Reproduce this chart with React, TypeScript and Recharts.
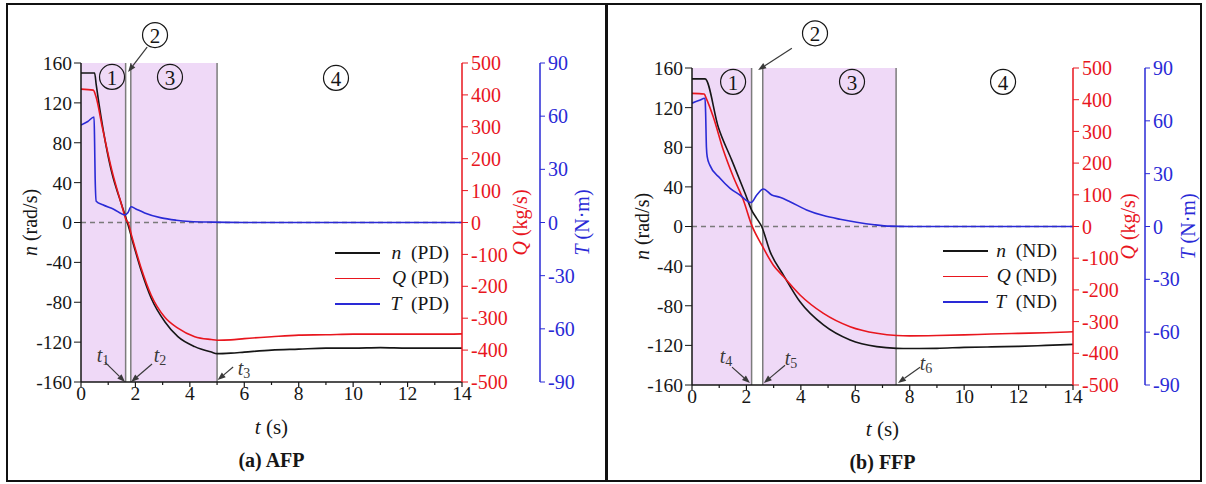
import React from "react";
import {
  ComposedChart,
  Line,
  XAxis,
  YAxis,
  ReferenceArea,
  ReferenceLine,
  ReferenceDot,
  Legend,
} from "recharts";

const FONT = "Liberation Serif, DejaVu Serif, serif";
const INK = "#161616";
const RED = "#E8161E";
const BLUE = "#2A2AD6";
const SHADE = "#EFD9F7";
const EDGE = "#7c7c7c";
const NOTE = "#3a3a3a";

// axis ticks
const tTicks = [0, 1, 2, 3, 4, 5, 6, 7, 8, 9, 10, 11, 12, 13, 14];
const nTicks = [-160, -120, -80, -40, 0, 40, 80, 120, 160];
const qTicks = [-500, -400, -300, -200, -100, 0, 100, 200, 300, 400, 500];
const torqueTicks = [-90, -60, -30, 0, 30, 60, 90];

// (a) AFP, PD
const nA_t = [0, 0.5, 0.56, 0.9, 1.15, 1.42, 1.67, 1.73, 1.97, 2.22, 2.58, 3.08, 3.56, 4.18, 4.79, 5.0, 5.5, 6, 7, 8, 9, 10, 11, 12, 13, 14];
const nA_v = [150, 150, 138, 80, 48, 24, 3, -2.5, -26, -49, -76, -99.5, -114.5, -124.5, -130, -131.5, -131, -130, -128, -127, -126, -126, -125.5, -126, -126, -126];
const qA_t = [0, 0.45, 0.55, 0.78, 1.13, 1.48, 1.67, 1.73, 1.85, 2.2, 2.58, 3.08, 3.56, 4.18, 4.79, 5.0, 5.5, 6, 7, 8, 9, 10, 11, 12, 13, 14];
const qA_v = [418, 415, 395, 300, 165, 59, 6, 0, -38, -140, -228, -297, -331, -358, -367, -369, -368, -364, -358, -353, -352, -350, -350, -350, -350, -349];
const TA_t = [0, 0.25, 0.48, 0.5, 0.52, 0.56, 0.8, 1.2, 1.62, 1.72, 1.84, 2.0, 2.34, 2.95, 3.5, 4.0, 4.8, 6, 8, 10, 12, 14];
const TA_v = [55, 57, 59.5, 45, 25, 12, 10, 7.5, 4.3, 5.5, 8.9, 7.8, 5.4, 2.6, 1.3, 0.6, 0.2, 0, 0, 0, 0, 0];

// (b) FFP, ND
const nB_t = [0, 0.48, 0.97, 1.46, 1.95, 2.19, 2.38, 2.56, 2.87, 3.36, 3.97, 4.83, 5.81, 6.79, 7.52, 8, 9, 10, 11, 12, 13, 14];
const nB_v = [149, 149, 100, 67, 33.5, 16.6, 8, 0, -25.4, -49, -76, -99.4, -114.6, -121.3, -123, -123.2, -123, -122, -121.5, -121, -120, -119];
const qB_t = [0, 0.45, 0.52, 0.78, 1.15, 1.52, 1.89, 2.19, 2.56, 2.99, 3.36, 3.97, 4.83, 5.81, 6.79, 7.52, 8, 9, 10, 11, 12, 13, 14];
const qB_v = [420, 418, 405, 346, 241, 156, 83, 5, -58, -122, -158, -216, -274, -316, -337, -344, -345, -344, -342, -339, -337, -335, -332];
const TB_t = [0, 0.25, 0.48, 0.5, 0.53, 0.56, 0.65, 1.03, 1.4, 1.76, 2.17, 2.38, 2.62, 2.93, 3.23, 3.6, 4.21, 4.83, 5.44, 6.05, 6.7, 7.28, 8, 10, 12, 14];
const TB_v = [70, 71.5, 72.8, 65, 45, 39.5, 35, 27.4, 21.7, 17.9, 13.6, 17.9, 21.3, 17.9, 16.6, 14.1, 9.4, 6.2, 4.1, 2.4, 1.0, 0.2, 0, 0, 0, 0];

// stage boundaries (s)
const stagesA = [1.64, 1.83, 5.0];
const stagesB = [2.19, 2.6, 7.5];

const zip = (ts: number[], vs: number[]) => ts.map((t, i) => ({ t, v: vs[i] }));

const TimeTick = ({ x, y, payload }: any) => {
  const v = payload.value;
  const major = v % 2 === 0;
  const ay = y - 7;
  return (
    <g>
      <line x1={x} x2={x} y1={ay} y2={ay + (major ? 5 : 3)} stroke={INK} strokeWidth={1.2} />
      {major && (
        <text x={x} y={ay + 18} textAnchor="middle" fontSize={19.5} fontFamily={FONT} fill={INK}>
          {v}
        </text>
      )}
    </g>
  );
};

const vTitle = (sym: string, unit: string, color: string, dx: number) => ({ viewBox }: any) => {
  const cx = viewBox.x + dx;
  const cy = viewBox.y + viewBox.height / 2;
  return (
    <text
      x={cx}
      y={cy}
      transform={`rotate(-90 ${cx} ${cy})`}
      textAnchor="middle"
      dominantBaseline="central"
      fill={color}
      fontSize={20}
      fontFamily={FONT}
    >
      <tspan fontStyle="italic">{sym}</tspan>
      {" " + unit}
    </text>
  );
};

const xTitle = (caption: string, dy1: number, dy2: number) => ({ viewBox }: any) => {
  const cx = viewBox.x + viewBox.width / 2;
  return (
    <g fontFamily={FONT} fill={INK}>
      <text x={cx} y={viewBox.y + dy1} textAnchor="middle" dominantBaseline="central" fontSize={21}>
        <tspan fontStyle="italic">t</tspan>
        {" (s)"}
      </text>
      <text x={cx} y={viewBox.y + dy2} textAnchor="middle" dominantBaseline="central" fontSize={20} fontWeight="bold">
        {caption}
      </text>
    </g>
  );
};

const circled = (label: string) => ({ cx, cy }: any) => (
  <g>
    <circle cx={cx} cy={cy} r={12.5} fill="none" stroke={INK} strokeWidth={1.2} />
    <text x={cx} y={cy + 1} textAnchor="middle" dominantBaseline="central" fontSize={21} fontFamily={FONT} fill={INK}>
      {label}
    </text>
  </g>
);

const tLabel = (sub: string) => ({ cx, cy }: any) => (
  <text x={cx} y={cy} textAnchor="middle" dominantBaseline="central" fontFamily={FONT} fill={NOTE} fontSize={20}>
    <tspan fontStyle="italic">t</tspan>
    <tspan fontSize={14} dy={5}>{sub}</tspan>
  </text>
);

const arrowShape = (props: any) => {
  const { x1, y1, x2, y2 } = props;
  const a = Math.atan2(y2 - y1, x2 - x1);
  const L = 8;
  const W = 3;
  const bx = x2 - L * Math.cos(a);
  const by = y2 - L * Math.sin(a);
  const px = -Math.sin(a) * W;
  const py = Math.cos(a) * W;
  return (
    <g>
      <line x1={x1} y1={y1} x2={bx} y2={by} stroke={NOTE} strokeWidth={1.2} />
      <polygon points={`${x2},${y2} ${bx + px},${by + py} ${bx - px},${by - py}`} fill={NOTE} />
    </g>
  );
};

const legendRows = [
  { sym: "n", gap: "  ", color: INK },
  { sym: "Q", gap: " ", color: RED },
  { sym: "T", gap: "  ", color: BLUE },
];

const legendContent = (tag: string) => () => (
  <div style={{ width: 114, fontFamily: FONT, fontSize: 19.5, color: INK }}>
    {legendRows.map((r) => (
      <div key={r.sym} style={{ display: "flex", alignItems: "center", height: 25.5 }}>
        <div style={{ width: 45, height: 1.5, flexShrink: 0, background: r.color }} />
        <div style={{ flex: 1, textAlign: "right", whiteSpace: "pre" }}>
          <i>{r.sym}</i>
          {r.gap}({tag})
        </div>
      </div>
    ))}
  </div>
);

type PanelProps = {
  left: number;
  width: number;
  margin: { top: number; right: number; bottom: number; left: number };
  nWidth: number;
  qWidth: number;
  titles: { n: number; q: number; T: number; x1: number; x2: number };
  n: { t: number; v: number }[];
  q: { t: number; v: number }[];
  T: { t: number; v: number }[];
  stages: number[];
  circles: { t: number; n: number; label: string }[];
  arrows: { x1: number; y1: number; x2: number; y2: number }[];
  tNotes: { t: number; n: number; sub: string }[];
  tag: string;
  caption: string;
  legendPos: { left: number; top: number };
};

function Panel(p: PanelProps) {
  const [s1, s2, s3] = p.stages;
  return (
    <div style={{ position: "absolute", left: p.left, top: 4 }}>
      <ComposedChart width={p.width} height={477} margin={p.margin}>
        <XAxis
          dataKey="t"
          type="number"
          domain={[0, 14]}
          ticks={tTicks}
          interval={0}
          allowDataOverflow
          height={30}
          tickSize={5}
          tickMargin={2}
          tickLine={false}
          tick={<TimeTick />}
          axisLine={{ stroke: INK, strokeWidth: 1.5 }}
          label={{ content: xTitle(p.caption, p.titles.x1, p.titles.x2) }}
        />
        <YAxis
          yAxisId="n"
          orientation="left"
          domain={[-160, 160]}
          ticks={nTicks}
          interval={0}
          allowDataOverflow
          width={p.nWidth}
          tickSize={7}
          tickMargin={2}
          stroke={INK}
          axisLine={{ stroke: INK, strokeWidth: 1.5 }}
          tick={{ fill: INK, fontSize: 19.5, fontFamily: FONT }}
          label={{ content: vTitle("n", "(rad/s)", INK, p.titles.n) }}
        />
        <YAxis
          yAxisId="q"
          orientation="right"
          domain={[-500, 500]}
          ticks={qTicks}
          interval={0}
          allowDataOverflow
          width={p.qWidth}
          tickSize={6}
          tickMargin={3}
          stroke={RED}
          axisLine={{ stroke: RED, strokeWidth: 1.5 }}
          tick={{ fill: RED, fontSize: 20, fontFamily: FONT }}
          label={{ content: vTitle("Q", "(kg/s)", RED, p.titles.q) }}
        />
        <YAxis
          yAxisId="torque"
          orientation="right"
          domain={[-90, 90]}
          ticks={torqueTicks}
          interval={0}
          allowDataOverflow
          width={55}
          tickSize={5}
          tickMargin={3}
          stroke={BLUE}
          axisLine={{ stroke: BLUE, strokeWidth: 1.5 }}
          tick={{ fill: BLUE, fontSize: 20, fontFamily: FONT }}
          label={{ content: vTitle("T", "(N·m)", BLUE, p.titles.T) }}
        />

        <ReferenceArea yAxisId="n" x1={0} x2={s1} y1={-160} y2={160} fill={SHADE} fillOpacity={1} stroke="none" />
        <ReferenceArea yAxisId="n" x1={s2} x2={s3} y1={-160} y2={160} fill={SHADE} fillOpacity={1} stroke="none" />
        {p.stages.map((s) => (
          <ReferenceLine key={s} yAxisId="n" x={s} stroke={EDGE} strokeWidth={1.5} />
        ))}
        <ReferenceLine yAxisId="n" y={0} stroke="#7a7a7a" strokeWidth={1.3} strokeDasharray="5 4" />

        <Line data={p.n} dataKey="v" yAxisId="n" type="monotone" stroke={INK} strokeWidth={1.6} dot={false} isAnimationActive={false} />
        <Line data={p.q} dataKey="v" yAxisId="q" type="monotone" stroke={RED} strokeWidth={1.6} dot={false} isAnimationActive={false} />
        <Line data={p.T} dataKey="v" yAxisId="torque" type="monotone" stroke={BLUE} strokeWidth={1.6} dot={false} isAnimationActive={false} />

        {p.circles.map((c) => (
          <ReferenceDot key={c.label} yAxisId="n" x={c.t} y={c.n} r={12} ifOverflow="visible" shape={circled(c.label)} />
        ))}
        {p.arrows.map((a, i) => (
          <ReferenceLine
            key={"ar" + i}
            yAxisId="n"
            segment={[{ x: a.x1, y: a.y1 }, { x: a.x2, y: a.y2 }]}
            ifOverflow="visible"
            shape={arrowShape}
          />
        ))}
        {p.tNotes.map((n) => (
          <ReferenceDot key={n.sub} yAxisId="n" x={n.t} y={n.n} r={5} ifOverflow="visible" shape={tLabel(n.sub)} />
        ))}

        <Legend
          layout="vertical"
          align="center"
          verticalAlign="middle"
          wrapperStyle={{ left: p.legendPos.left, top: p.legendPos.top, width: 114 }}
          content={legendContent(p.tag)}
        />
      </ComposedChart>
    </div>
  );
}

export default function App() {
  const frame = "#111";
  return (
    <div style={{ position: "absolute", left: 0, top: 0, width: 1206, height: 484, background: "#fff", overflow: "hidden" }}>
      <Panel
        left={7}
        width={598}
        margin={{ top: 59, right: 10, bottom: 69, left: 0 }}
        nWidth={74}
        qWidth={78}
        titles={{ n: 23, q: 58, T: 42, x1: 45, x2: 78 }}
        n={zip(nA_t, nA_v)}
        q={zip(qA_t, qA_v)}
        T={zip(TA_t, TA_v)}
        stages={stagesA}
        circles={[
          { t: 1.14, n: 146, label: "1" },
          { t: 2.72, n: 188, label: "2" },
          { t: 3.27, n: 146, label: "3" },
          { t: 9.37, n: 145, label: "4" },
        ]}
        arrows={[
          { x1: 2.43, y1: 176, x2: 1.73, y2: 151 },
          { x1: 0.88, y1: -140, x2: 1.62, y2: -160 },
          { x1: 2.61, y1: -142, x2: 1.84, y2: -160 },
          { x1: 5.59, y1: -145, x2: 5.02, y2: -158 },
        ]}
        tNotes={[
          { t: 0.81, n: -133, sub: "1" },
          { t: 2.9, n: -133, sub: "2" },
          { t: 5.99, n: -146, sub: "3" },
        ]}
        tag="PD"
        caption="(a) AFP"
        legendPos={{ left: 328, top: 236 }}
      />
      <Panel
        left={607}
        width={593}
        margin={{ top: 64, right: 0, bottom: 66, left: 0 }}
        nWidth={85}
        qWidth={72}
        titles={{ n: 35, q: 55, T: 43, x1: 44, x2: 77 }}
        n={zip(nB_t, nB_v)}
        q={zip(qB_t, qB_v)}
        T={zip(TB_t, TB_v)}
        stages={stagesB}
        circles={[
          { t: 1.51, n: 146, label: "1" },
          { t: 4.52, n: 195, label: "2" },
          { t: 5.88, n: 146, label: "3" },
          { t: 11.43, n: 146, label: "4" },
        ]}
        arrows={[
          { x1: 3.67, y1: 180, x2: 2.43, y2: 158 },
          { x1: 1.47, y1: -142, x2: 2.13, y2: -158 },
          { x1: 3.42, y1: -140, x2: 2.64, y2: -158 },
          { x1: 8.38, y1: -142, x2: 7.57, y2: -158 },
        ]}
        tNotes={[
          { t: 1.25, n: -131, sub: "4" },
          { t: 3.64, n: -133, sub: "5" },
          { t: 8.6, n: -138, sub: "6" },
        ]}
        tag="ND"
        caption="(b) FFP"
        legendPos={{ left: 336, top: 234 }}
      />
      {/* outer frame and divider */}
      <div style={{ position: "absolute", left: 6, top: 3, width: 1196, height: 479, border: `2px solid ${frame}`, boxSizing: "border-box" }} />
      <div style={{ position: "absolute", left: 605, top: 3, width: 2.5, height: 479, background: frame }} />
    </div>
  );
}
